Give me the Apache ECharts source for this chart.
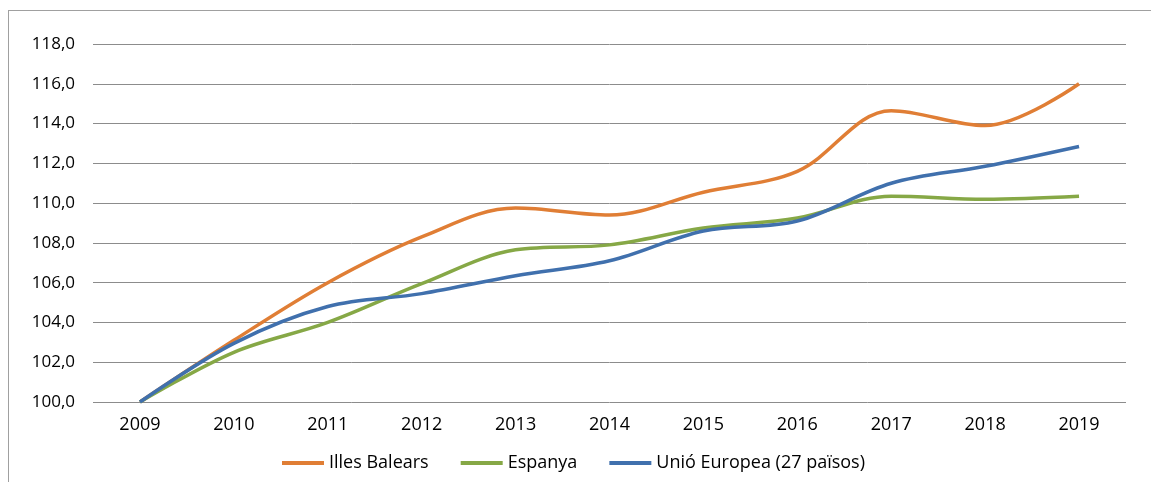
<!DOCTYPE html>
<html>
<head>
<meta charset="utf-8">
<script src="https://cdn.jsdelivr.net/npm/echarts@6/dist/echarts.min.js"></script>
<style>
  html, body { margin: 0; padding: 0; background: #fff; }
  #chart { position: absolute; left: 8px; top: 10px; width: 1143px; height: 472px;
           border-left: 1px solid #a0a0a0; border-top: 1px solid #a0a0a0; box-sizing: border-box; }
</style>
</head>
<body>
<div id="chart"></div>
<script>
const years = ['2009', '2010', '2011', '2012', '2013', '2014', '2015', '2016', '2017', '2018', '2019'];
const illesBalears = [100.0, 103.1, 106.0, 108.3, 109.75, 109.4, 110.55, 111.6, 114.65, 113.9, 116.0];
const espanya = [100.0, 102.5, 104.0, 105.95, 107.65, 107.9, 108.75, 109.25, 110.35, 110.2, 110.35];
const uniEuropea = [100.0, 102.95, 104.8, 105.45, 106.35, 107.1, 108.6, 109.1, 111.0, 111.85, 112.85];

const fontFamily = 'Open Sans, Noto Sans, sans-serif';

const chart = echarts.init(document.getElementById('chart'));

function line(name, data, color) {
    return {
        name: name,
        type: 'line',
        data: data,
        smooth: 0.35,
        symbol: 'none',
        lineStyle: { color: color, width: 3.5 },
        itemStyle: { color: color }
    };
}

chart.setOption({
    animation: false,
    grid: { left: 84, right: 25, top: 33, bottom: 80 },
    legend: {
        bottom: 5,
        left: 268,
        itemWidth: 42,
        itemHeight: 4,
        itemGap: 32,
        icon: 'rect',
        textStyle: { fontFamily: fontFamily, fontSize: 18, color: '#000' },
        data: ['Illes Balears', 'Espanya', 'Unió Europea (27 països)']
    },
    xAxis: {
        type: 'category',
        data: years,
        boundaryGap: true,
        axisLine: { show: false },
        axisTick: { show: false },
        axisLabel: { fontFamily: fontFamily, fontSize: 18, color: '#000', margin: 14 }
    },
    yAxis: {
        type: 'value',
        min: 100,
        max: 118,
        interval: 2,
        axisLine: { show: false },
        axisTick: { show: false },
        splitLine: { lineStyle: { color: '#8c8c8c', width: 1 } },
        axisLabel: {
            fontFamily: fontFamily, fontSize: 17, color: '#000', margin: 18,
            formatter: v => v.toFixed(1).replace('.', ',')
        }
    },
    series: [
        line('Illes Balears', illesBalears, '#e07e35'),
        line('Espanya', espanya, '#86a846'),
        line('Unió Europea (27 països)', uniEuropea, '#4070ad')
    ]
});
</script>
</body>
</html>
